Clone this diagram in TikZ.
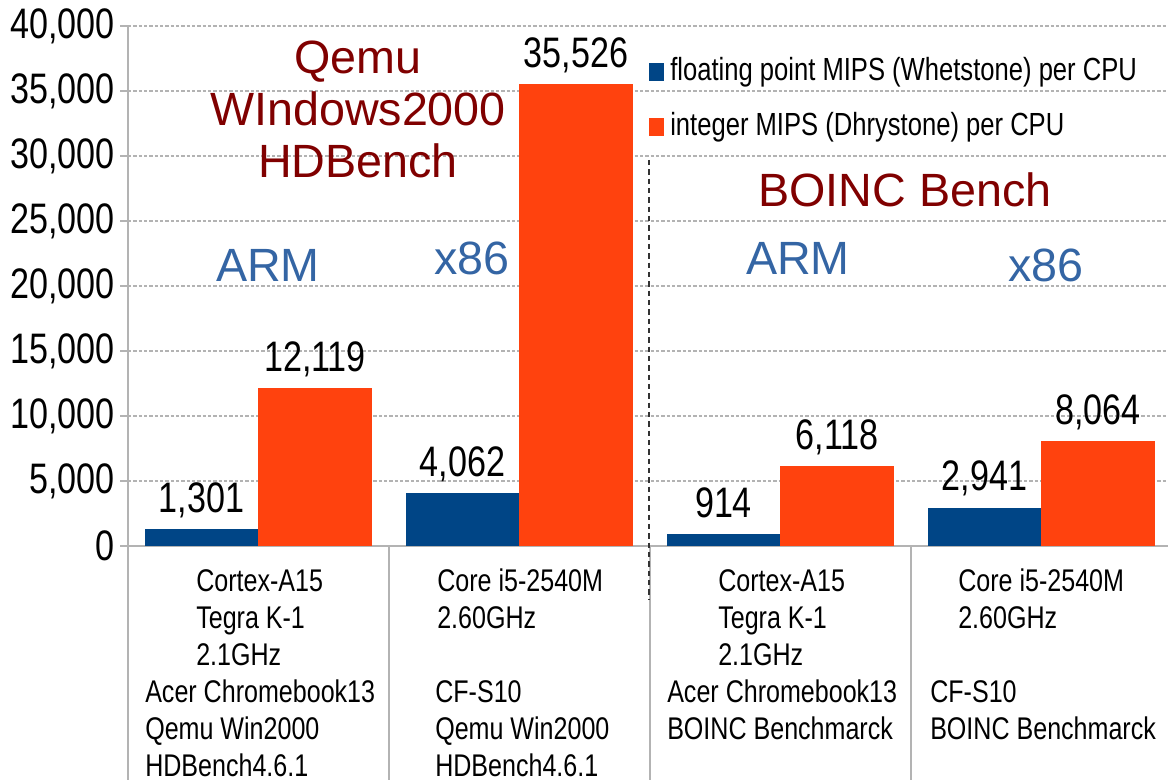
\documentclass[tikz,border=0pt]{standalone}
\usepackage{fontspec}
\setmainfont{Liberation Sans}
\newfontfamily\narrowfont{Liberation Sans}[FakeStretch=0.8]
\usepackage{tikz}
\usetikzlibrary{positioning,calc}
\definecolor{fpblue}{HTML}{004586}
\definecolor{intorange}{HTML}{FF420E}
\definecolor{gridgray}{HTML}{B3B3B3}
\definecolor{titlered}{HTML}{800000}
\definecolor{archblue}{HTML}{3465A4}
\tikzstyle{fpbar} = [fill=fpblue]
\tikzstyle{intbar} = [fill=intorange]
\tikzstyle{gridline} = [gridgray, line width=0.8pt, dash pattern=on 2.5pt off 1.5pt]
\tikzstyle{axisline} = [gridgray, line width=1.1pt]
\tikzstyle{value} = [font=\narrowfont\fontsize{32}{36}\selectfont, anchor=base, inner sep=0pt]
\tikzstyle{ticklabel} = [font=\narrowfont\fontsize{32}{36}\selectfont, anchor=east, inner sep=0pt]
\tikzstyle{catlabel} = [font=\narrowfont\fontsize{23.5}{27.75}\selectfont, align=left, anchor=north west, inner sep=0pt]
\tikzstyle{legendtext} = [font=\narrowfont\fontsize{24}{28}\selectfont, anchor=west, inner sep=0pt]
\tikzstyle{bigred} = [font=\fontsize{35}{39}\selectfont, text=titlered, align=center]
\tikzstyle{bigblue} = [font=\fontsize{35}{39}\selectfont, text=archblue]

\begin{document}
\begin{tikzpicture}[x=0.75pt, y=-0.75pt]
    \useasboundingbox (0,0) rectangle (1168,780);

    % Grid and y axis
    \foreach \k/\lab in {0/0, 1/{5,000}, 2/{10,000}, 3/{15,000}, 4/{20,000}, 5/{25,000}, 6/{30,000}, 7/{35,000}, 8/{40,000}} {
        \ifnum\k>0
            \draw[gridline] (128,546-65*\k) -- (1168,546-65*\k);
        \fi
        \draw[axisline] (120,546-65*\k) -- (128,546-65*\k);
        \node[ticklabel] (ylab\k) at (115,546-65*\k) {\lab};
    }
    \draw[axisline] (128,26) -- (128,780);
    \draw[axisline] (120,546) -- (1168,546);

    % Category separators
    \draw[axisline] (389,546) -- (389,780);
    \draw[axisline] (650,546) -- (650,780);
    \draw[axisline] (911,546) -- (911,780);
    \draw[black!80, line width=1.1pt, dash pattern=on 4pt off 3pt] (649,160) -- (649,600);

    % Bars
    \fill[fpbar] (145,546) rectangle (258,529.1);
    \fill[intbar] (258,546) rectangle (372,388.5);
    \fill[fpbar] (406,546) rectangle (519,493.2);
    \fill[intbar] (519,546) rectangle (633,84.2);
    \fill[fpbar] (667,546) rectangle (780,534.1);
    \fill[intbar] (780,546) rectangle (894,466.5);
    \fill[fpbar] (928,546) rectangle (1041,507.8);
    \fill[intbar] (1041,546) rectangle (1155,441.2);

    % Values
    \node[value] (fpa) at (201.5,512.1) {1,301};
    \node[value] (inta) at (315,371.5) {12,119};
    \node[value] (fpb) at (462.5,476.2) {4,062};
    \node[value] (intb) at (576,67.2) {35,526};
    \node[value] (fpc) at (723.5,517.1) {914};
    \node[value] (intc) at (837,449.5) {6,118};
    \node[value] (fpd) at (984.5,490.8) {2,941};
    \node[value] (intd) at (1098,424.2) {8,064};

    % Categories
    \node[catlabel] (cpua) at (196,569) {Cortex-A15\\Tegra K-1\\2.1GHz};
    \node[catlabel] (pca) at (145,680) {Acer Chromebook13\\Qemu Win2000\\HDBench4.6.1};
    \node[catlabel] (cpub) at (437,569) {Core i5-2540M\\2.60GHz};
    \node[catlabel] (pcb) at (435,680) {CF-S10\\Qemu Win2000\\HDBench4.6.1};
    \node[catlabel] (cpuc) at (718,569) {Cortex-A15\\Tegra K-1\\2.1GHz};
    \node[catlabel] (pcc) at (667,680) {Acer Chromebook13\\BOINC Benchmarck};
    \node[catlabel] (cpud) at (958,569) {Core i5-2540M\\2.60GHz};
    \node[catlabel] (pcd) at (930,680) {CF-S10\\BOINC Benchmarck};

    % Legend
    \fill[fpbar] (649,63) rectangle (664,81);
    \node[legendtext] (legfp) at (670,72) {floating point MIPS (Whetstone) per CPU};
    \fill[intbar] (649,118) rectangle (664,136);
    \node[legendtext] (legint) at (670,127) {integer MIPS (Dhrystone) per CPU};

    % Annotations
    \node[bigred] (qemu) at (358,109) {Qemu\\WIndows2000\\HDBench};
    \node[bigred] (boinc) at (905,190) {BOINC Bench};
    \node[bigblue] (arma) at (268,265) {ARM};
    \node[bigblue] (x86a) at (472,258) {x86};
    \node[bigblue] (armb) at (798,258) {ARM};
    \node[bigblue] (x86b) at (1046,265) {x86};
\end{tikzpicture}
\end{document}
